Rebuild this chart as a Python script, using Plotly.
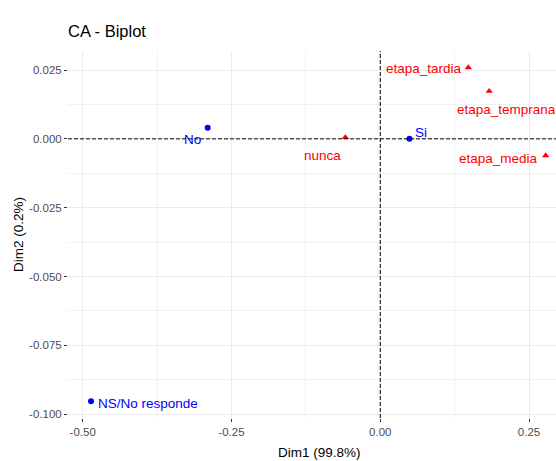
import plotly.graph_objects as go

# CA biplot coordinates
row_names = ["No", "Si", "NS/No responde"]
row_dim1 = [-0.290, 0.049, -0.486]
row_dim2 = [0.0040, 0.0000, -0.0953]

col_names = ["nunca", "etapa_tardia", "etapa_temprana", "etapa_media"]
col_dim1 = [-0.0587, 0.148, 0.183, 0.278]
col_dim2 = [0.0005, 0.0259, 0.0173, -0.0061]

x_ticks = [-0.50, -0.25, 0.00, 0.25]
x_ticktext = ["-0.50", "-0.25", "0.00", "0.25"]
y_ticks = [0.025, 0.000, -0.025, -0.050, -0.075, -0.100]
y_ticktext = ["0.025", "0.000", "-0.025", "-0.050", "-0.075", "-0.100"]

FONT = "Liberation Sans, Arial, sans-serif"
BLUE = "#0000FF"
RED = "#FF0000"

W, H = 556, 461

fig = go.Figure()

fig.add_trace(go.Scatter(
    x=row_dim1, y=row_dim2, mode="markers",
    marker=dict(symbol="circle", size=6, color=BLUE),
    hoverinfo="skip", showlegend=False,
))
fig.add_trace(go.Scatter(
    x=col_dim1, y=col_dim2, mode="markers",
    marker=dict(symbol="triangle-up", size=6.5, color=RED),
    hoverinfo="skip", showlegend=False,
))

# label placement (repel-like offsets, in px)
row_offsets = [("right", -5, -12), ("left", 4, 6), ("left", 5, -2)]
col_offsets = [("right", -2, -18), ("right", -4, -1), ("left", -34, -18), ("right", -6, -3)]

for name, x, y, (anchor, dx, dy) in zip(row_names, row_dim1, row_dim2, row_offsets):
    fig.add_annotation(x=x, y=y, text=name, showarrow=False, xanchor=anchor,
                       yanchor="middle", xshift=dx, yshift=dy,
                       font=dict(family=FONT, size=13.5, color=BLUE))
for name, x, y, (anchor, dx, dy) in zip(col_names, col_dim1, col_dim2, col_offsets):
    fig.add_annotation(x=x, y=y, text=name, showarrow=False, xanchor=anchor,
                       yanchor="middle", xshift=dx, yshift=dy,
                       font=dict(family=FONT, size=13.5, color=RED))

# dashed reference lines through the origin
fig.add_vline(x=0, line=dict(color="black", width=1, dash="4px,2px"))
fig.add_hline(y=0, line=dict(color="black", width=1, dash="4px,2px"))

# x axis title, centred on the (cropped) panel
fig.add_annotation(text="Dim1 (99.8%)", xref="paper", yref="paper", x=0.516, y=0,
                   yshift=-34, xanchor="center", yanchor="middle", showarrow=False,
                   font=dict(family=FONT, size=13.5, color="black"))

axis_common = dict(
    showline=False, zeroline=False,
    ticks="outside", ticklen=3, tickwidth=1, tickcolor="#333333",
    tickfont=dict(family=FONT, size=11.5, color="#4d4d4d"),
    showgrid=True, gridcolor="#ebebeb", gridwidth=1,
)

fig.update_layout(
    width=W, height=H,
    margin=dict(l=68, r=0, t=51, b=43),
    plot_bgcolor="white", paper_bgcolor="white",
    title=dict(text="CA - Biplot", x=68 / W, xanchor="left", xref="container",
               y=1 - 31.5 / H, yanchor="middle", yref="container",
               font=dict(family=FONT, size=16.5, color="black")),
    xaxis=dict(range=[-0.5247, 0.2953], tickmode="array", tickvals=x_ticks,
               ticktext=x_ticktext,
               minor=dict(tickvals=[-0.375, -0.125, 0.125], showgrid=True,
                          gridcolor="#f2f2f2", gridwidth=1, ticks=""),
               **axis_common),
    yaxis=dict(range=[-0.1014, 0.0319], tickmode="array", tickvals=y_ticks,
               ticktext=y_ticktext,
               minor=dict(tickvals=[0.0125, -0.0125, -0.0375, -0.0625, -0.0875],
                          showgrid=True, gridcolor="#f2f2f2", gridwidth=1, ticks=""),
               title=dict(text="Dim2 (0.2%)", standoff=2,
                          font=dict(family=FONT, size=13.5, color="black")),
               **axis_common),
)

# drop the default body margin so the figure fills the window exactly
fig.write_html("out.html", config={"displayModeBar": False},
               post_script="document.body.style.margin = '0';")
